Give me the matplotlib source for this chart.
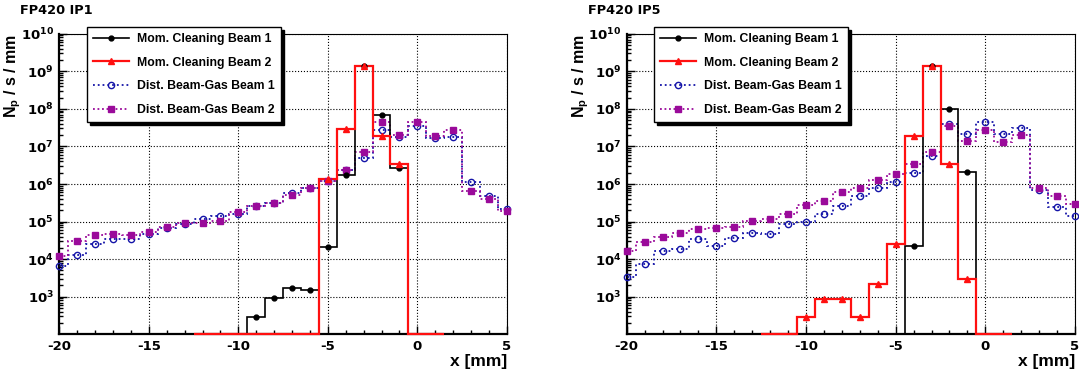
import matplotlib

matplotlib.use("Agg")
import matplotlib.pyplot as plt
import numpy as np
from matplotlib.ticker import FixedLocator, LogLocator, NullFormatter

plt.rcParams["font.family"] = ["DejaVu Sans"]
plt.rcParams["font.weight"] = "bold"
plt.rcParams["axes.labelweight"] = "bold"
plt.rcParams["axes.unicode_minus"] = False
plt.rcParams["mathtext.fontset"] = "custom"
plt.rcParams["mathtext.rm"] = "DejaVu Sans:bold"
plt.rcParams["mathtext.bf"] = "DejaVu Sans:bold"
plt.rcParams["mathtext.it"] = "DejaVu Sans:bold"

# bin centres (1 mm bins)
X_GAS = np.arange(-20, 6)
X_MOM = np.arange(-12, 2)

# FP420 IP1
ip1_mom_b1 = [0, 0, 0, 2.9e2, 9.0e2, 1.7e3, 1.5e3, 2.1e4, 1.7e6, 1.35e9, 6.9e7, 2.6e6, 0, 0]
ip1_mom_b2 = [0, 0, 0, 0, 0, 0, 0, 1.4e6, 2.9e7, 1.4e9, 1.9e7, 3.5e6, 0, 0]
ip1_gas_b1 = [6.5e3, 1.3e4, 2.6e4, 3.5e4, 3.5e4, 4.8e4, 6.6e4, 8.7e4, 1.2e5, 1.45e5, 1.55e5,
              2.6e5, 3.1e5, 5.8e5, 8.0e5, 1.2e6, 2.3e6, 5.0e6, 2.8e7, 1.8e7, 3.4e7, 1.7e7,
              1.8e7, 1.1e6, 4.7e5, 2.2e5]
ip1_gas_b2 = [1.2e4, 3.1e4, 4.4e4, 4.8e4, 4.4e4, 5.3e4, 7.3e4, 8.9e4, 9.2e4, 1.05e5, 1.8e5,
              2.6e5, 3.2e5, 5.2e5, 8.0e5, 1.2e6, 2.4e6, 6.9e6, 4.4e7, 2.0e7, 4.5e7, 1.9e7,
              2.8e7, 6.7e5, 4.0e5, 1.9e5]

# FP420 IP5
ip5_mom_b1 = [0, 0, 0, 0, 0, 0, 0, 0, 2.2e4, 1.35e9, 9.8e7, 2.1e6, 0, 0]
ip5_mom_b2 = [0, 0, 2.9e2, 8.5e2, 8.5e2, 2.9e2, 2.2e3, 2.5e4, 1.9e7, 1.4e9, 3.4e6, 2.9e3, 0, 0]
ip5_gas_b1 = [3.4e3, 7.6e3, 1.6e4, 1.9e4, 3.4e4, 2.3e4, 3.7e4, 5.0e4, 4.7e4, 8.7e4, 9.6e4,
              1.6e5, 2.6e5, 4.9e5, 7.6e5, 1.15e6, 2.0e6, 5.6e6, 4.0e7, 2.2e7, 4.5e7, 2.1e7,
              3.0e7, 7.0e5, 2.5e5, 1.4e5]
ip5_gas_b2 = [1.6e4, 2.9e4, 3.9e4, 5.0e4, 6.4e4, 6.6e4, 7.2e4, 1.04e5, 1.2e5, 1.6e5, 2.7e5,
              3.6e5, 6.0e5, 7.8e5, 1.25e6, 1.8e6, 3.4e6, 6.9e6, 3.6e7, 1.4e7, 2.8e7, 1.3e7,
              2.0e7, 7.8e5, 4.7e5, 3.0e5]

LABELS = ["Mom. Cleaning Beam 1", "Mom. Cleaning Beam 2",
          "Dist. Beam-Gas Beam 1", "Dist. Beam-Gas Beam 2"]
YMIN, YMAX = 1e2, 1e10
BLUE = "#1414a8"
MAGENTA = "#9a0a9a"

W, H = 1079, 378


def hist(ax, x, vals, color, ls, lw, marker, ms, mfc, label, clip):
    vals = np.asarray(vals, dtype=float)
    edges = np.append(x - 0.5, x[-1] + 0.5)
    shown = np.where(vals > 0, vals, YMIN)  # empty bins sit on the axis, as in ROOT
    ax.stairs(shown, edges, baseline=None, color=color, ls=ls, lw=lw,
              zorder=3, clip_on=clip)
    m = vals > 0
    ax.plot(x[m], vals[m], ls="none", marker=marker, ms=ms, color=color,
            mfc=mfc, mec=color, mew=1.0, zorder=4, clip_on=False)
    # legend proxy
    ax.plot([], [], color=color, ls=ls, lw=lw, marker=marker, ms=ms, mfc=mfc,
            mec=color, mew=1.0, label=label)


def panel(ax, title, mom1, mom2, gas1, gas2, leg_x):
    hist(ax, X_GAS, gas1, BLUE, ":", 1.3, "o", 4.5, "none", LABELS[2], True)
    hist(ax, X_GAS, gas2, MAGENTA, (0, (1, 1.5)), 1.3, "s", 4.5, MAGENTA, LABELS[3], True)
    hist(ax, X_MOM, mom1, "black", "-", 1.2, "o", 3.5, "black", LABELS[0], False)
    hist(ax, X_MOM, mom2, "#ff1010", "-", 1.6, "^", 4.0, "#ff1010", LABELS[1], False)

    ax.set_yscale("log")
    ax.set_xlim(-20, 5)
    ax.set_ylim(YMIN, YMAX)
    ax.xaxis.set_major_locator(FixedLocator([-20, -15, -10, -5, 0, 5]))
    ax.xaxis.set_minor_locator(FixedLocator(np.arange(-20, 6)))
    ax.yaxis.set_major_locator(FixedLocator([1e3, 1e4, 1e5, 1e6, 1e7, 1e8, 1e9, 1e10]))
    ax.set_yticklabels([r"$10^{%d}$" % k for k in range(3, 11)])
    ax.yaxis.set_minor_locator(LogLocator(base=10, subs=np.arange(2, 10), numticks=50))
    ax.yaxis.set_minor_formatter(NullFormatter())
    ax.tick_params(which="both", direction="in", top=False, right=False,
                   labelsize=9.5, width=1.0, pad=4)
    ax.tick_params(which="major", length=6)
    ax.tick_params(which="minor", length=3)
    ax.grid(True, which="major", ls=":", color="black", lw=0.8)
    for s in ("left", "bottom"):
        ax.spines[s].set_linewidth(1.6)
    for s in ("top", "right"):
        ax.spines[s].set_linewidth(0.8)

    lab_font = {"family": "Liberation Sans", "weight": "bold"}
    ax.set_ylabel(r"N$_\mathregular{p}$ / s / mm", fontsize=11.5, fontdict=lab_font,
                  loc="top")
    ax.yaxis.set_label_coords(-0.08, 1.0)
    ax.set_xlabel("x [mm]", fontsize=12.5, fontdict=lab_font, loc="right", va="center")
    ax.xaxis.set_label_coords(1.0, -0.09)

    pos = ax.get_position()
    ax.figure.text(pos.x0 - 39 / W, 1 - 11 / H, title, fontsize=9.3,
                   fontweight="bold", va="center", ha="left")

    handles, labels = ax.get_legend_handles_labels()
    order = [labels.index(lab) for lab in LABELS]
    leg = ax.legend([handles[i] for i in order], LABELS,
                    loc="upper left", bbox_to_anchor=(leg_x / W, 1 - 27 / H),
                    bbox_transform=ax.figure.transFigure, borderaxespad=0,
                    prop={"family": "Liberation Sans", "weight": "bold", "size": 8.8},
                    frameon=True, fancybox=False, edgecolor="black", framealpha=1,
                    shadow={"color": "black", "alpha": 1},
                    handlelength=2.9, handletextpad=0.7, labelspacing=0.95,
                    borderpad=0.5)
    leg.get_frame().set_linewidth(1.0)
    leg.set_zorder(10)


fig = plt.figure(figsize=(W / 100, H / 100), dpi=100)
ax1 = fig.add_axes([59.3 / W, 43.7 / H, 447.5 / W, 300.6 / H])
ax2 = fig.add_axes([626.7 / W, 43.7 / H, 448.3 / W, 300.6 / H])

panel(ax1, "FP420 IP1", ip1_mom_b1, ip1_mom_b2, ip1_gas_b1, ip1_gas_b2, 87)
panel(ax2, "FP420 IP5", ip5_mom_b1, ip5_mom_b2, ip5_gas_b1, ip5_gas_b2, 654)

fig.savefig("out.png", dpi=100)
